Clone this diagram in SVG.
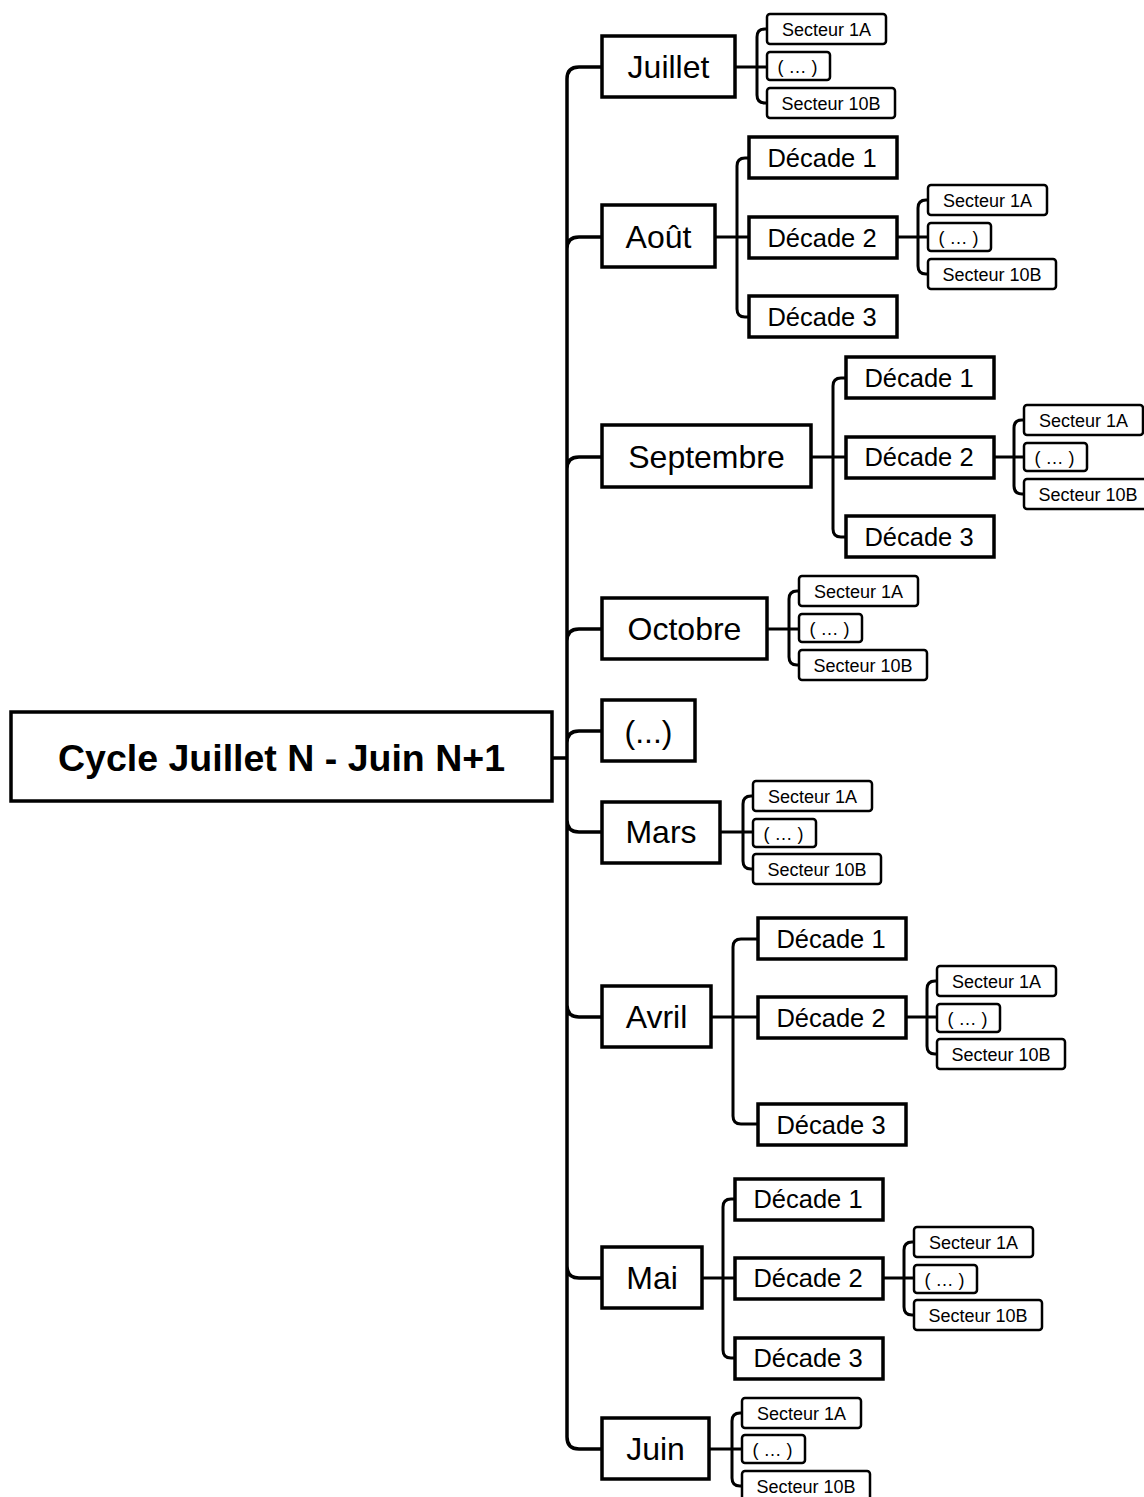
<svg xmlns="http://www.w3.org/2000/svg" width="1144" height="1497" viewBox="0 0 1144 1497">
<style>
.bg{fill:#fff}
.b{fill:#fff;stroke:#000;stroke-width:3.5}
.s{fill:#fff;stroke:#000;stroke-width:2.5}
.c{fill:none;stroke:#000;stroke-width:3.5;stroke-linecap:butt}
.c2{fill:none;stroke:#000;stroke-width:3}
text{font-family:"Liberation Sans",Arial,sans-serif;fill:#000;text-anchor:middle}
.tr{font-size:37.5px;font-weight:bold}
.tm{font-size:32px}
.td{font-size:25.5px}
.ts{font-size:18px}
</style>
<rect class="bg" x="0" y="0" width="1144" height="1497"/>
<g id="connectors">
<path class="c" d="M553,758 H567 M567,758 V79 Q567,67 579,67 H601 M567,758 V249 Q567,237 579,237 H601 M567,758 V469 Q567,457 579,457 H601 M567,758 V641 Q567,629 579,629 H601 M567,758 V743 Q567,731 579,731 H601 M567,758 V820 Q567,832 579,832 H601 M567,758 V1005 Q567,1017 579,1017 H601 M567,758 V1266 Q567,1278 579,1278 H601 M567,758 V1437 Q567,1449 579,1449 H601"/>
<path class="c2" d="M736,67 H757 M757,67 V37 Q757,29 765,29 H767 M757,67 H767 M757,67 V95 Q757,103 765,103 H767"/>
<path class="c2" d="M716,237 H737 M737,237 V166 Q737,158 745,158 H749 M737,237 H749 M737,237 V309 Q737,317 745,317 H749"/>
<path class="c2" d="M897,237 H918 M918,237 V208 Q918,200 926,200 H928 M918,237 H928 M918,237 V266 Q918,274 926,274 H928"/>
<path class="c2" d="M812,457 H833 M833,457 V386 Q833,378 841,378 H846 M833,457 H846 M833,457 V529 Q833,537 841,537 H846"/>
<path class="c2" d="M994,457 H1014 M1014,457 V428 Q1014,420 1022,420 H1024 M1014,457 H1024 M1014,457 V486 Q1014,494 1022,494 H1024"/>
<path class="c2" d="M768,629 H789 M789,629 V599 Q789,591 797,591 H799 M789,629 H799 M789,629 V657 Q789,665 797,665 H799"/>
<path class="c2" d="M721,832 H743 M743,832 V804 Q743,796 751,796 H753 M743,832 H753 M743,832 V861 Q743,869 751,869 H753"/>
<path class="c2" d="M712,1017 H733 M733,1017 V947 Q733,939 741,939 H758 M733,1017 H758 M733,1017 V1116 Q733,1124 741,1124 H758"/>
<path class="c2" d="M906,1017 H927 M927,1017 V989 Q927,981 935,981 H937 M927,1017 H937 M927,1017 V1046 Q927,1054 935,1054 H937"/>
<path class="c2" d="M703,1278 H723 M723,1278 V1207 Q723,1199 731,1199 H735 M723,1278 H735 M723,1278 V1350 Q723,1358 731,1358 H735"/>
<path class="c2" d="M883,1278 H904 M904,1278 V1250 Q904,1242 912,1242 H914 M904,1278 H914 M904,1278 V1307 Q904,1315 912,1315 H914"/>
<path class="c2" d="M710,1449 H732 M732,1449 V1421 Q732,1413 740,1413 H742 M732,1449 H742 M732,1449 V1478 Q732,1486 740,1486 H742"/>
</g>

<g id="root"><rect class="b" x="11" y="712" width="541" height="89"/><text class="tr" x="281.5" y="771">Cycle Juillet N - Juin N+1</text></g>

<g id="juillet"><rect class="b" x="602" y="36" width="133" height="61"/><text class="tm" x="668.5" y="78">Juillet</text></g>
<g id="juillet-s1"><rect class="s" x="767" y="14" width="119" height="30" rx="3"/><text class="ts" x="826.5" y="35.5">Secteur 1A</text></g>
<g id="juillet-s2"><rect class="s" x="767" y="52" width="63" height="28" rx="3"/><text class="ts" x="797.5" y="72.5">( … )</text></g>
<g id="juillet-s3"><rect class="s" x="767" y="88" width="128" height="30" rx="3"/><text class="ts" x="831" y="109.5">Secteur 10B</text></g>

<g id="aout"><rect class="b" x="602" y="205" width="113" height="62"/><text class="tm" x="658.5" y="248">Août</text></g>
<g id="aout-d1"><rect class="b" x="749" y="137" width="148" height="41"/><text class="td" x="822" y="167">Décade 1</text></g>
<g id="aout-d2"><rect class="b" x="749" y="217" width="148" height="41"/><text class="td" x="822" y="247">Décade 2</text></g>
<g id="aout-d3"><rect class="b" x="749" y="296" width="148" height="41"/><text class="td" x="822" y="326">Décade 3</text></g>
<g id="aout-s1"><rect class="s" x="928" y="185" width="119" height="30" rx="3"/><text class="ts" x="987.5" y="206.5">Secteur 1A</text></g>
<g id="aout-s2"><rect class="s" x="928" y="223" width="63" height="28" rx="3"/><text class="ts" x="958.5" y="243.5">( … )</text></g>
<g id="aout-s3"><rect class="s" x="928" y="259" width="128" height="30" rx="3"/><text class="ts" x="992" y="280.5">Secteur 10B</text></g>

<g id="septembre"><rect class="b" x="602" y="425" width="209" height="62"/><text class="tm" x="706.5" y="468">Septembre</text></g>
<g id="sept-d1"><rect class="b" x="846" y="357" width="148" height="41"/><text class="td" x="919" y="387">Décade 1</text></g>
<g id="sept-d2"><rect class="b" x="846" y="437" width="148" height="41"/><text class="td" x="919" y="466">Décade 2</text></g>
<g id="sept-d3"><rect class="b" x="846" y="516" width="148" height="41"/><text class="td" x="919" y="546">Décade 3</text></g>
<g id="sept-s1"><rect class="s" x="1024" y="405" width="119" height="30" rx="3"/><text class="ts" x="1083.5" y="426.5">Secteur 1A</text></g>
<g id="sept-s2"><rect class="s" x="1024" y="443" width="63" height="28" rx="3"/><text class="ts" x="1054.5" y="463.5">( … )</text></g>
<g id="sept-s3"><rect class="s" x="1024" y="479" width="128" height="30" rx="3"/><text class="ts" x="1088" y="500.5">Secteur 10B</text></g>

<g id="octobre"><rect class="b" x="602" y="598" width="165" height="61"/><text class="tm" x="684.5" y="640">Octobre</text></g>
<g id="oct-s1"><rect class="s" x="799" y="576" width="119" height="30" rx="3"/><text class="ts" x="858.5" y="597.5">Secteur 1A</text></g>
<g id="oct-s2"><rect class="s" x="799" y="614" width="63" height="28" rx="3"/><text class="ts" x="829.5" y="634.5">( … )</text></g>
<g id="oct-s3"><rect class="s" x="799" y="650" width="128" height="30" rx="3"/><text class="ts" x="863" y="671.5">Secteur 10B</text></g>

<g id="etc"><rect class="b" x="602" y="700" width="93" height="61"/><text class="tm" x="648.5" y="743">(...)</text></g>

<g id="mars"><rect class="b" x="602" y="802" width="118" height="61"/><text class="tm" x="661" y="843">Mars</text></g>
<g id="mars-s1"><rect class="s" x="753" y="781" width="119" height="30" rx="3"/><text class="ts" x="812.5" y="802.5">Secteur 1A</text></g>
<g id="mars-s2"><rect class="s" x="753" y="819" width="63" height="28" rx="3"/><text class="ts" x="783.5" y="839.5">( … )</text></g>
<g id="mars-s3"><rect class="s" x="753" y="854" width="128" height="30" rx="3"/><text class="ts" x="817" y="875.5">Secteur 10B</text></g>

<g id="avril"><rect class="b" x="602" y="986" width="109" height="61"/><text class="tm" x="656.5" y="1028">Avril</text></g>
<g id="avril-d1"><rect class="b" x="758" y="918" width="148" height="41"/><text class="td" x="831" y="948">Décade 1</text></g>
<g id="avril-d2"><rect class="b" x="758" y="997" width="148" height="41"/><text class="td" x="831" y="1027">Décade 2</text></g>
<g id="avril-d3"><rect class="b" x="758" y="1104" width="148" height="41"/><text class="td" x="831" y="1134">Décade 3</text></g>
<g id="avril-s1"><rect class="s" x="937" y="966" width="119" height="30" rx="3"/><text class="ts" x="996.5" y="987.5">Secteur 1A</text></g>
<g id="avril-s2"><rect class="s" x="937" y="1004" width="63" height="28" rx="3"/><text class="ts" x="967.5" y="1024.5">( … )</text></g>
<g id="avril-s3"><rect class="s" x="937" y="1039" width="128" height="30" rx="3"/><text class="ts" x="1001" y="1060.5">Secteur 10B</text></g>

<g id="mai"><rect class="b" x="602" y="1247" width="100" height="61"/><text class="tm" x="652" y="1289">Mai</text></g>
<g id="mai-d1"><rect class="b" x="735" y="1179" width="148" height="41"/><text class="td" x="808" y="1208">Décade 1</text></g>
<g id="mai-d2"><rect class="b" x="735" y="1258" width="148" height="41"/><text class="td" x="808" y="1287">Décade 2</text></g>
<g id="mai-d3"><rect class="b" x="735" y="1338" width="148" height="41"/><text class="td" x="808" y="1367">Décade 3</text></g>
<g id="mai-s1"><rect class="s" x="914" y="1227" width="119" height="30" rx="3"/><text class="ts" x="973.5" y="1248.5">Secteur 1A</text></g>
<g id="mai-s2"><rect class="s" x="914" y="1265" width="63" height="28" rx="3"/><text class="ts" x="944.5" y="1285.5">( … )</text></g>
<g id="mai-s3"><rect class="s" x="914" y="1300" width="128" height="30" rx="3"/><text class="ts" x="978" y="1321.5">Secteur 10B</text></g>

<g id="juin"><rect class="b" x="602" y="1418" width="107" height="61"/><text class="tm" x="655.5" y="1460">Juin</text></g>
<g id="juin-s1"><rect class="s" x="742" y="1398" width="119" height="30" rx="3"/><text class="ts" x="801.5" y="1419.5">Secteur 1A</text></g>
<g id="juin-s2"><rect class="s" x="742" y="1435" width="63" height="28" rx="3"/><text class="ts" x="772.5" y="1455.5">( … )</text></g>
<g id="juin-s3"><rect class="s" x="742" y="1471" width="128" height="30" rx="3"/><text class="ts" x="806" y="1492.5">Secteur 10B</text></g>
</svg>
